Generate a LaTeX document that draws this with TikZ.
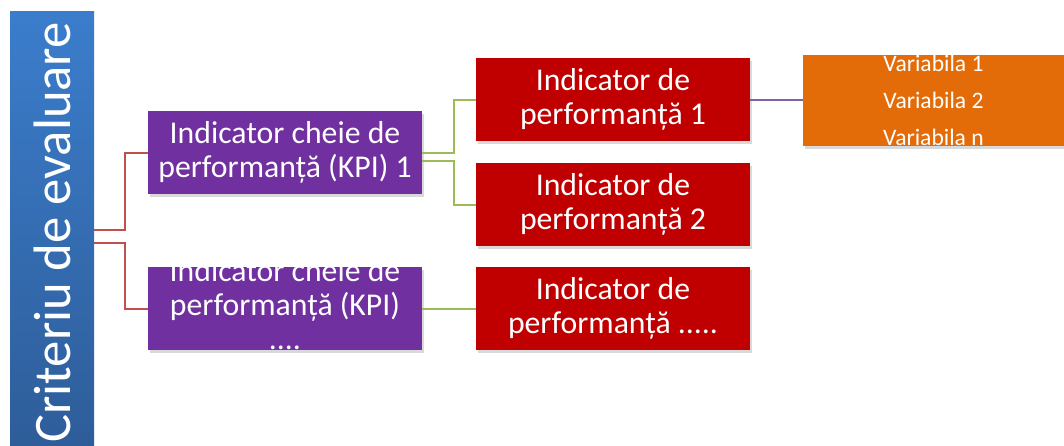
\documentclass[tikz,border=0pt]{standalone}
\usepackage{fontspec}
\setmainfont{Carlito}
\usetikzlibrary{shadows}
\usetikzlibrary{calc}

\definecolor{kpiviolet}{HTML}{7030A0}
\definecolor{indred}{HTML}{C00000}
\definecolor{varorange}{HTML}{E36C09}
\definecolor{bartop}{HTML}{3B7DCC}
\definecolor{barbottom}{HTML}{2E5D99}
\definecolor{linkred}{HTML}{C0504D}
\definecolor{linkgreen}{HTML}{9BBB59}
\definecolor{linkviolet}{HTML}{8064A2}

\tikzset{
  boxshadow/.style={drop shadow={opacity=0.3, shadow xshift=1.5pt, shadow yshift=-2.5pt}},
  kpibox/.style={fill=kpiviolet, boxshadow, minimum width=205.5pt, minimum height=62.25pt, inner sep=0pt},
  indbox/.style={fill=indred, boxshadow, minimum width=205.5pt, minimum height=62.25pt, inner sep=0pt},
  boxtext/.style={text=white, align=center, inner sep=0pt, font=\fontsize{23.8}{25.5}\selectfont},
  vartext/.style={text=white, align=center, inner sep=0pt, font=\fontsize{17.7}{27.75}\selectfont},
  redlink/.style={draw=linkred, line width=1.5pt},
  greenlink/.style={draw=linkgreen, line width=1.5pt},
  violetlink/.style={draw=linkviolet, line width=1.5pt}
}

\begin{document}
\begin{tikzpicture}[x=0.75pt, y=-0.75pt]
          \useasboundingbox (0,0) rectangle (1064,446);

          % criteriu
          \node[top color=bartop, bottom color=barbottom, minimum width=63pt, minimum height=326.25pt, inner sep=0pt] (crit) at (52,228.5) {};
          \node[rotate=90, text=white, inner sep=0pt, font=\fontsize{39.5}{48}\selectfont] (crittext) at ([yshift=-3pt]crit.center) {Criteriu de evaluare};

          % KPI
          \node[kpibox, boxtext] (kpi1) at (285,152.5) {Indicator cheie de\\performanță (KPI) 1};
          \node[kpibox] (kpi2) at (285,308.5) {};
          \begin{scope}
            \clip (kpi2.north west) rectangle ([yshift=-20pt]kpi2.south east);
            \node[boxtext] (kpi2text) at ([yshift=3pt]kpi2.center) {Indicator cheie de\\performanță (KPI)\\....};
          \end{scope}

          % indicatori
          \node[indbox, boxtext] (ind1) at (613,99.5) {Indicator de\\performanță 1};
          \node[indbox, boxtext] (ind2) at (613,204.5) {Indicator de\\performanță 2};
          \node[indbox, boxtext] (ind3) at (613,308.5) {Indicator de\\performanță .....};

          % variabile
          \node[fill=varorange, boxshadow, minimum width=195.75pt, minimum height=68.25pt, inner sep=0pt] (vars) at (933.5,100.5) {};
          \begin{scope}
            \clip (vars.south west) rectangle (vars.north east);
            \node[vartext] (varstext) at (vars.center) {Variabila 1\\Variabila 2\\Variabila n};
          \end{scope}

          \draw[redlink] ([yshift=-1pt]crit.east) -- ++(31,0) |- (kpi1.west);
          \draw[redlink] ([yshift=-10.5pt]crit.east) -- ++(31,0) |- (kpi2.west);

          \draw[greenlink] (kpi1.east) -- ++(32,0) |- (ind1.west);
          \draw[greenlink] ([yshift=-6pt]kpi1.east) -- ++(32,0) |- (ind2.west);
          \draw[greenlink] (kpi2.east) -- (ind3.west);

          \draw[violetlink] (ind1.east) -- (ind1.east -| vars.west);

        \end{tikzpicture}
\end{document}
